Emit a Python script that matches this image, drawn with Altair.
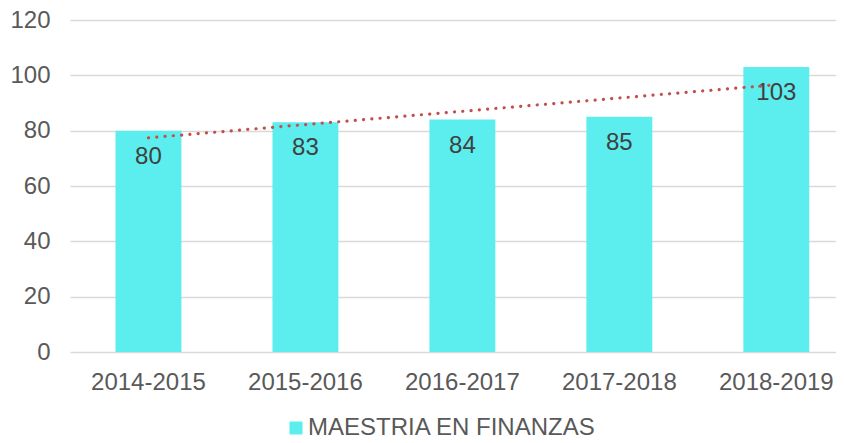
import json
import altair as alt
import pandas as pd

periods = ["2014-2015", "2015-2016", "2016-2017", "2017-2018", "2018-2019"]
values = [80, 83, 84, 85, 103]
series_name = "MAESTRIA EN FINANZAS"
y_ticks = [0, 20, 40, 60, 80, 100, 120]

df = pd.DataFrame({
    "period": periods,
    "value": values,
    "idx": list(range(1, len(periods) + 1)),
    "series": [series_name] * len(periods),
})

FONT = "Liberation Sans"
AXIS_GREY = "#595959"
BAR = "#5CEEEE"

xscale = alt.Scale(domain=periods, paddingInner=0.58, paddingOuter=0.23, align=0.63)

base = alt.Chart(df)

bars = base.mark_bar(color=BAR).encode(
    x=alt.X("period:N", scale=xscale, sort=periods,
            axis=alt.Axis(title=None, labelAngle=0, ticks=False, domain=False,
                          labelPadding=18, labelFontSize=24, labelColor=AXIS_GREY,
                          labelFont=FONT)),
    y=alt.Y("value:Q", scale=alt.Scale(domain=[0, 120], nice=False),
            axis=alt.Axis(title=None, values=y_ticks, ticks=False, domain=False,
                          labelPadding=20, labelFontSize=24, labelColor=AXIS_GREY,
                          labelFont=FONT, grid=True, gridColor="#D9D9D9",
                          gridWidth=1.3)),
    color=alt.Color("series:N", scale=alt.Scale(range=[BAR]),
                    legend=alt.Legend(title=None, orient="none", legendX=214,
                                      legendY=396, symbolType="square",
                                      symbolSize=169, symbolStrokeWidth=0,
                                      labelFontSize=24, labelColor=AXIS_GREY,
                                      labelFont=FONT, padding=0, labelOffset=0,
                                      labelLimit=500)),
)

labels = base.mark_text(baseline="middle", dy=26, fontSize=24, color="#404040",
                        font=FONT).encode(
    x=alt.X("period:N", scale=xscale, sort=periods),
    y=alt.Y("value:Q"),
    text=alt.Text("value:Q"),
)

trend = base.transform_regression("idx", "value").transform_calculate(
    period=f"{json.dumps(periods)}[datum.idx - 1]"
).mark_line(color="#C0504D", strokeWidth=3.2, strokeDash=[0.1, 8.2],
            strokeCap="round").encode(
    x=alt.X("period:N", scale=xscale, sort=periods),
    y=alt.Y("value:Q"),
)

chart = alt.layer(bars, labels, trend).properties(
    width=766, height=332,
    autosize=alt.AutoSizeParams(type="none"),
    padding={"left": 62, "top": 12, "right": 0, "bottom": 83},
).configure(font=FONT, view=alt.ViewConfig(stroke=None))

chart.save("out.html", embed_options={"renderer": "svg", "actions": False})
